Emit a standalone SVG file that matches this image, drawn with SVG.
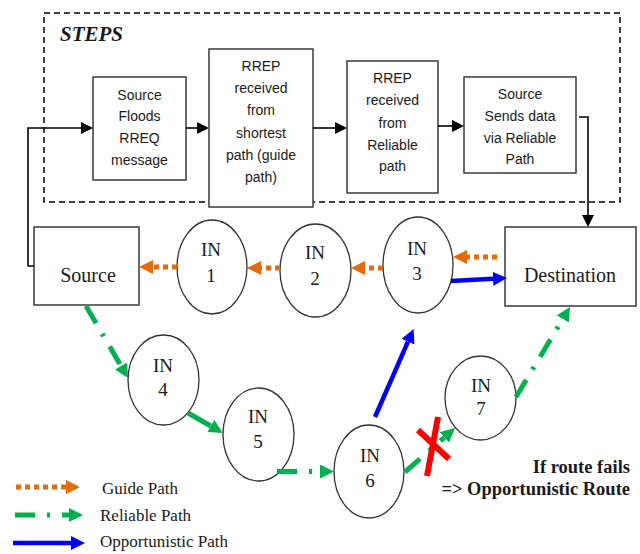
<svg xmlns="http://www.w3.org/2000/svg" width="640" height="554" viewBox="0 0 640 554">
<style>
.box{fill:#fff;stroke:#3a3a3a;stroke-width:1.5}
.node{fill:#fff;stroke:#333;stroke-width:1.3}
.st{font-family:"Liberation Sans",Arial,sans-serif;font-size:14px;fill:#1a1a1a;text-anchor:middle}
.sf{font-family:"Liberation Serif","Times New Roman",serif;fill:#1a1a1a;text-anchor:middle}
.in{font-size:19px}
.big{font-size:20px}
.leg{font-family:"Liberation Serif","Times New Roman",serif;font-size:17px;fill:#1a1a1a}
.blk{fill:none;stroke:#000;stroke-width:1.6}
.gd{fill:none;stroke:#E46C0A;stroke-width:5;stroke-dasharray:5 4}
.rl{fill:none;stroke:#00B050;stroke-width:5;stroke-dasharray:20 12 3 12}
.op{fill:none;stroke:#0000FF;stroke-width:4.5}
.x{stroke:#FF0000;stroke-width:6;fill:none}
</style>
<defs>
<marker id="ab" viewBox="0 0 12 12" refX="0" refY="6" markerWidth="12" markerHeight="12" markerUnits="userSpaceOnUse" orient="auto"><path d="M0,0 L12,6 L0,12 z" fill="#000"/></marker>
<marker id="ao" viewBox="0 0 14 14" refX="0" refY="7" markerWidth="14" markerHeight="14" markerUnits="userSpaceOnUse" orient="auto"><path d="M0,0 L14,7 L0,14 z" fill="#E46C0A"/></marker>
<marker id="ag" viewBox="0 0 14 14" refX="0" refY="7" markerWidth="14" markerHeight="14" markerUnits="userSpaceOnUse" orient="auto"><path d="M0,0 L14,7 L0,14 z" fill="#00B050"/></marker>
<marker id="abl" viewBox="0 0 14 14" refX="0" refY="7" markerWidth="14" markerHeight="14" markerUnits="userSpaceOnUse" orient="auto"><path d="M0,0 L14,7 L0,14 z" fill="#0000FF"/></marker>
</defs>
<rect width="640" height="554" fill="#fff"/>

<g id="steps-frame">
<rect x="44" y="13" width="576" height="189" fill="none" stroke="#000" stroke-width="1.5" stroke-dasharray="6 4"/>
<text x="60" y="41" font-family="Liberation Serif,'Times New Roman',serif" font-size="21" font-weight="bold" font-style="italic" fill="#1a1a1a">STEPS</text>
</g>

<g id="step1">
<rect class="box" x="93" y="77" width="93" height="103"/>
<text class="st" x="139.5" y="100">Source</text>
<text class="st" x="139.5" y="121">Floods</text>
<text class="st" x="139.5" y="143">RREQ</text>
<text class="st" x="139.5" y="165">message</text>
</g>
<g id="step2">
<rect class="box" x="209" y="49" width="104" height="158"/>
<text class="st" x="261" y="71">RREP</text>
<text class="st" x="261" y="93">received</text>
<text class="st" x="261" y="115">from</text>
<text class="st" x="261" y="138">shortest</text>
<text class="st" x="261" y="160">path (guide</text>
<text class="st" x="261" y="182">path)</text>
</g>
<g id="step3">
<rect class="box" x="347" y="61" width="91" height="132"/>
<text class="st" x="392.5" y="83">RREP</text>
<text class="st" x="392.5" y="105">received</text>
<text class="st" x="392.5" y="128">from</text>
<text class="st" x="392.5" y="150">Reliable</text>
<text class="st" x="392.5" y="171">path</text>
</g>
<g id="step4">
<rect class="box" x="464" y="77" width="112" height="96"/>
<text class="st" x="520" y="99">Source</text>
<text class="st" x="520" y="121">Sends data</text>
<text class="st" x="520" y="143">via Reliable</text>
<text class="st" x="520" y="164">Path</text>
</g>

<g id="source">
<rect class="box" x="34" y="227" width="105" height="78"/>
<text class="sf big" x="88" y="282">Source</text>
</g>
<g id="destination">
<rect class="box" x="505" y="227" width="131" height="79"/>
<text class="sf big" x="570" y="282">Destination</text>
</g>

<g id="in1"><ellipse class="node" cx="212" cy="267" rx="35" ry="47"/><text class="sf in" x="211" y="256">IN</text><text class="sf in" x="211" y="282">1</text></g>
<g id="in2"><ellipse class="node" cx="315.5" cy="270.5" rx="35.5" ry="46.5"/><text class="sf in" x="315" y="259">IN</text><text class="sf in" x="315" y="285">2</text></g>
<g id="in3"><ellipse class="node" cx="418" cy="265" rx="35" ry="48"/><text class="sf in" x="417" y="255">IN</text><text class="sf in" x="417" y="280">3</text></g>
<g id="in4"><ellipse class="node" cx="163.5" cy="380" rx="35.5" ry="45"/><text class="sf in" x="163" y="372">IN</text><text class="sf in" x="163" y="396">4</text></g>
<g id="in5"><ellipse class="node" cx="258.5" cy="434.5" rx="35.5" ry="46.5"/><text class="sf in" x="258" y="423">IN</text><text class="sf in" x="258" y="448">5</text></g>
<g id="in6"><ellipse class="node" cx="369" cy="471.5" rx="35" ry="46.5"/><text class="sf in" x="370" y="462">IN</text><text class="sf in" x="370" y="487">6</text></g>
<g id="in7"><ellipse class="node" cx="480.5" cy="398" rx="35.5" ry="42"/><text class="sf in" x="481" y="392">IN</text><text class="sf in" x="481" y="415">7</text></g>

<g id="connectors">
<path class="blk" d="M34,266 H28 V128 H81" marker-end="url(#ab)"/>
<path class="blk" d="M186,128 H197" marker-end="url(#ab)"/>
<path class="blk" d="M313,128 H335" marker-end="url(#ab)"/>
<path class="blk" d="M438,126 H452" marker-end="url(#ab)"/>
<path class="blk" d="M579,117 H588 V215" marker-end="url(#ab)"/>

<path class="gd" d="M497,257 H467" marker-end="url(#ao)"/>
<path class="gd" d="M383,268 H365" marker-end="url(#ao)"/>
<path class="gd" d="M280,268 H261" marker-end="url(#ao)"/>
<path class="gd" d="M177,267 H153" marker-end="url(#ao)"/>

<path class="op" d="M451,281 L493,278.8" marker-end="url(#abl)"/>
<path class="op" d="M375,417 L408,341.7" marker-end="url(#abl)"/>

<path class="rl" d="M86,306 L121,366" marker-end="url(#ag)"/>
<path class="rl" style="stroke-dasharray:none" d="M188,413 L210.8,426" marker-end="url(#ag)"/>
<path class="rl" d="M277,471.5 H320" marker-end="url(#ag)"/>
<path class="rl" d="M405,472 L444.5,437.3" marker-end="url(#ag)"/>
<path class="rl" d="M516,397 L562.8,319" marker-end="url(#ag)"/>

<path class="x" d="M438,417 L427,476"/>
<path class="x" d="M418,430 L449,459"/>
</g>

<g id="note">
<text x="630" y="473" text-anchor="end" font-family="Liberation Serif,'Times New Roman',serif" font-size="18.5" font-weight="bold" fill="#1a1a1a">If route fails</text>
<text x="630" y="495" text-anchor="end" font-family="Liberation Serif,'Times New Roman',serif" font-size="18.5" font-weight="bold" fill="#1a1a1a">=&gt; Opportunistic Route</text>
</g>

<g id="legend">
<path class="gd" d="M16,487 H66" marker-end="url(#ao)"/>
<text class="leg" x="102" y="494">Guide Path</text>
<path class="rl" d="M15,515 H69" marker-end="url(#ag)"/>
<text class="leg" x="100" y="521">Reliable Path</text>
<path class="op" d="M13,543 H71" marker-end="url(#abl)"/>
<text class="leg" x="100" y="547">Opportunistic Path</text>
</g>
</svg>
